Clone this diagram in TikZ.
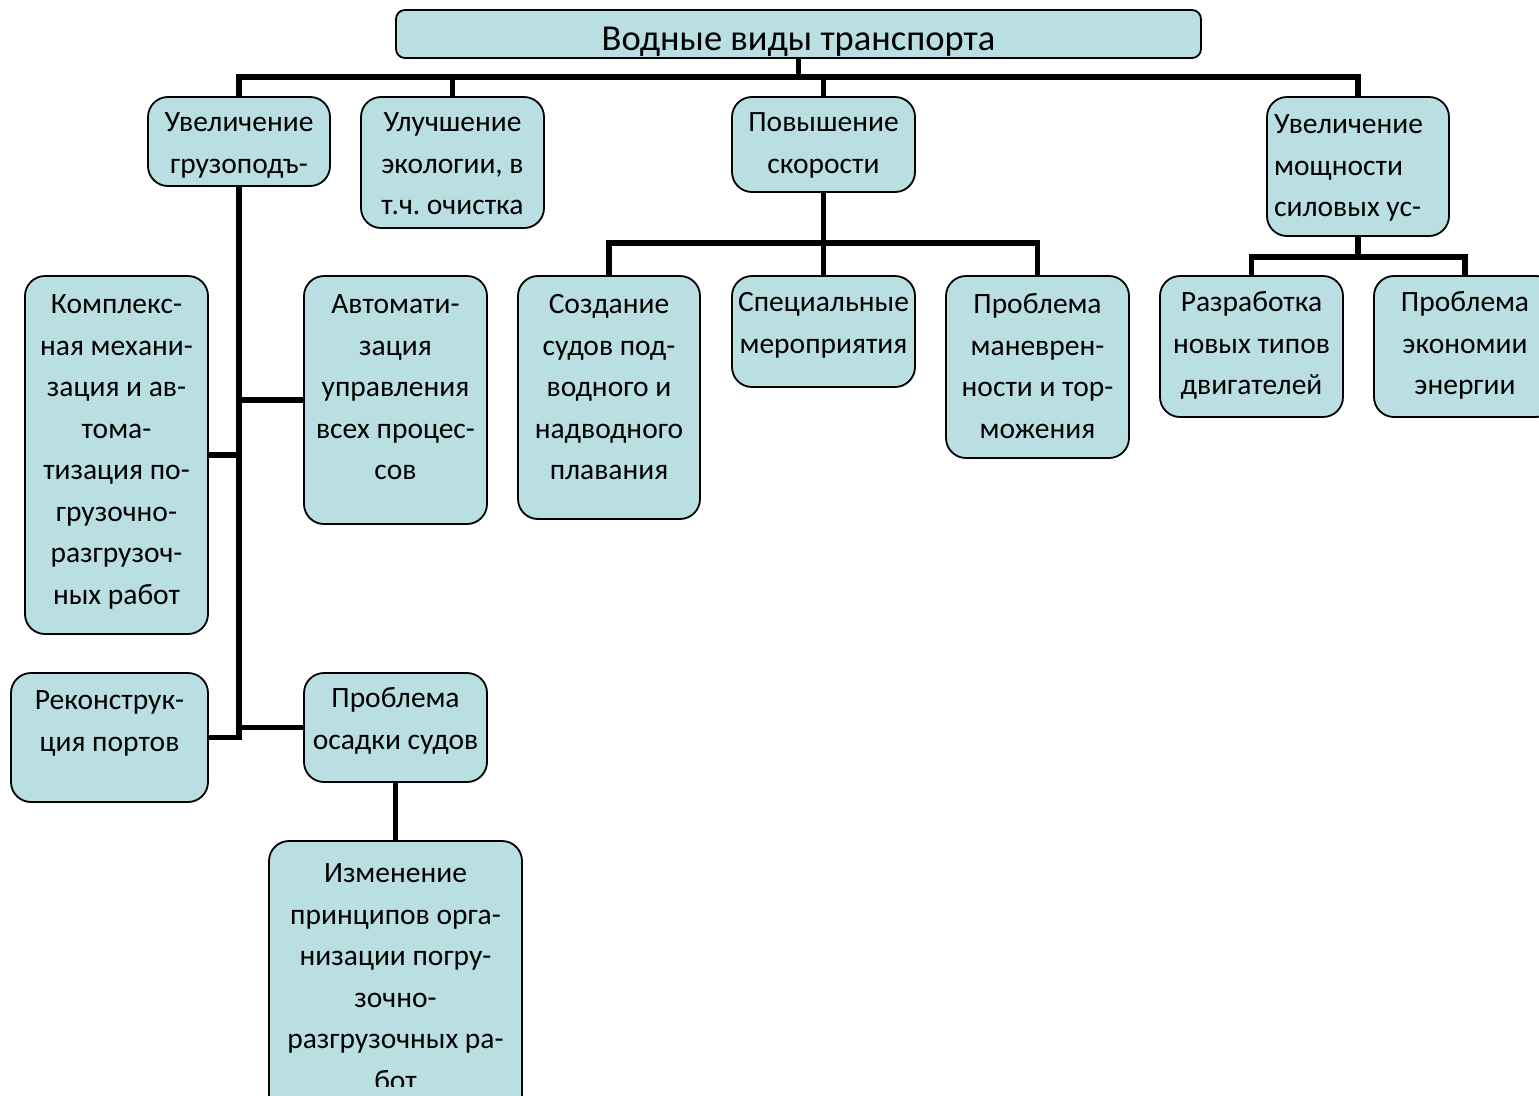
\documentclass[tikz,border=0pt]{standalone}
\usepackage{fontspec}
\setmainfont{Carlito}
\frenchspacing
\definecolor{boxfill}{RGB}{185,223,227}
\tikzset{
  box/.style={draw=black, line width=1.8pt, fill=boxfill, rounded corners=20pt, inner sep=0pt},
  titlebox/.style={box, rounded corners=9pt},
  txt/.style={inner sep=0pt, align=center, font={\fontsize{29.5}{41.5}\selectfont}},
  ttxt/.style={inner sep=0pt, font={\fontsize{36.5}{40}\selectfont}},
  conn/.style={line width=5.5pt, draw=black}
}
\begin{document}
\begin{tikzpicture}[x=1pt,y=-1pt]
\useasboundingbox (0,0) rectangle (1539,1095);
% boxes
\node[titlebox, minimum width=805pt, minimum height=48pt] (T) at (798.5,34) {};
\node[box, minimum width=182pt, minimum height=89pt]  (A) at (239,141.5) {};
\node[box, minimum width=183pt, minimum height=131pt] (B) at (452.5,162.5) {};
\node[box, minimum width=183pt, minimum height=95pt]  (C) at (823.5,144.5) {};
\node[box, minimum width=182pt, minimum height=139pt] (D) at (1358,166.5) {};
\node[box, minimum width=183pt, minimum height=358pt] (E) at (116.5,455) {};
\node[box, minimum width=183pt, minimum height=248pt] (F) at (395.5,400) {};
\node[box, minimum width=182pt, minimum height=243pt] (G) at (609,397.5) {};
\node[box, minimum width=183pt, minimum height=111pt] (H) at (823.5,331.5) {};
\node[box, minimum width=183pt, minimum height=182pt] (I) at (1037.5,367) {};
\node[box, minimum width=183pt, minimum height=141pt] (J) at (1251.5,346.5) {};
\node[box, minimum width=182pt, minimum height=141pt] (K) at (1465,346.5) {};
\node[box, minimum width=197pt, minimum height=129pt] (L) at (109.5,737.5) {};
\node[box, minimum width=183pt, minimum height=109pt] (M) at (395.5,727.5) {};
\node[box, minimum width=253pt, minimum height=274pt] (N) at (395.5,978) {};
% texts
\node[ttxt, anchor=base] (Tt) at (798.5,50) {Водные виды транспорта};
\node[txt, anchor=north] (At) at (239,102.3) {\strut Увеличение\\грузоподъ-};
\node[txt, anchor=north] (Bt) at (452.5,102.3) {\strut Улучшение\\экологии, в\\т.ч. очистка};
\node[txt, anchor=north] (Ct) at (823.5,102.3) {\strut Повышение\\скорости};
\node[txt, anchor=north west, align=left] (Dt) at (1274,104.3) {\strut Увеличение\\мощности\\силовых ус-};
\node[txt, anchor=north] (Et) at (116.5,284.3) {\strut Комплекс-\\ная механи-\\зация и ав-\\тома-\\тизация по-\\грузочно-\\разгрузоч-\\ных работ};
\node[txt, anchor=north] (Ft) at (395.5,284.3) {\strut Автомати-\\зация\\управления\\всех процес-\\сов};
\node[txt, anchor=north] (Gt) at (609,284.3) {\strut Создание\\судов под-\\водного и\\надводного\\плавания};
\node[txt, anchor=north] (Ht) at (823.5,282.3) {\strut Специальные\\мероприятия};
\node[txt, anchor=north] (It) at (1037.5,284.3) {\strut Проблема\\маневрен-\\ности и тор-\\можения};
\node[txt, anchor=north] (Jt) at (1251.5,282.3) {\strut Разработка\\новых типов\\двигателей};
\node[txt, anchor=north] (Kt) at (1465,282.3) {\strut Проблема\\экономии\\энергии};
\node[txt, anchor=north] (Lt) at (109.5,680.3) {\strut Реконструк-\\ция портов};
\node[txt, anchor=north] (Mt) at (395.5,678.3) {\strut Проблема\\осадки судов};
\begin{scope}
\clip (269,841) rectangle (522,1086);
\node[txt, anchor=north] (Nt) at (395.5,853.3) {\strut Изменение\\принципов орга-\\низации погру-\\зочно-\\разгрузочных ра-\\бот};
\end{scope}
% connectors
\coordinate (bus) at (798.5,77);
\coordinate (cbus) at (823.5,243);
\coordinate (dbus) at (1358,257);
\draw[conn] (T.south) -- (bus);
\draw[conn] (A.north) |- (bus) -| (D.north);
\draw[conn] (B.north) -- (B.north |- bus);
\draw[conn] (C.north) -- (C.north |- bus);
\draw[conn] (A.south) |- (L.east);
\draw[conn] (E.east) -- (E.east -| A.south);
\draw[conn] (F.west) -- (F.west -| A.south);
\draw[conn] (M.west) -- (M.west -| A.south);
\draw[conn] (M.south) -- (N.north);
\draw[conn] (C.south) -- (cbus);
\draw[conn] (G.north) |- (cbus) -| (I.north);
\draw[conn] (H.north) -- (cbus);
\draw[conn] (D.south) -- (dbus);
\draw[conn] (J.north) |- (dbus) -| (K.north);
\end{tikzpicture}
\end{document}
